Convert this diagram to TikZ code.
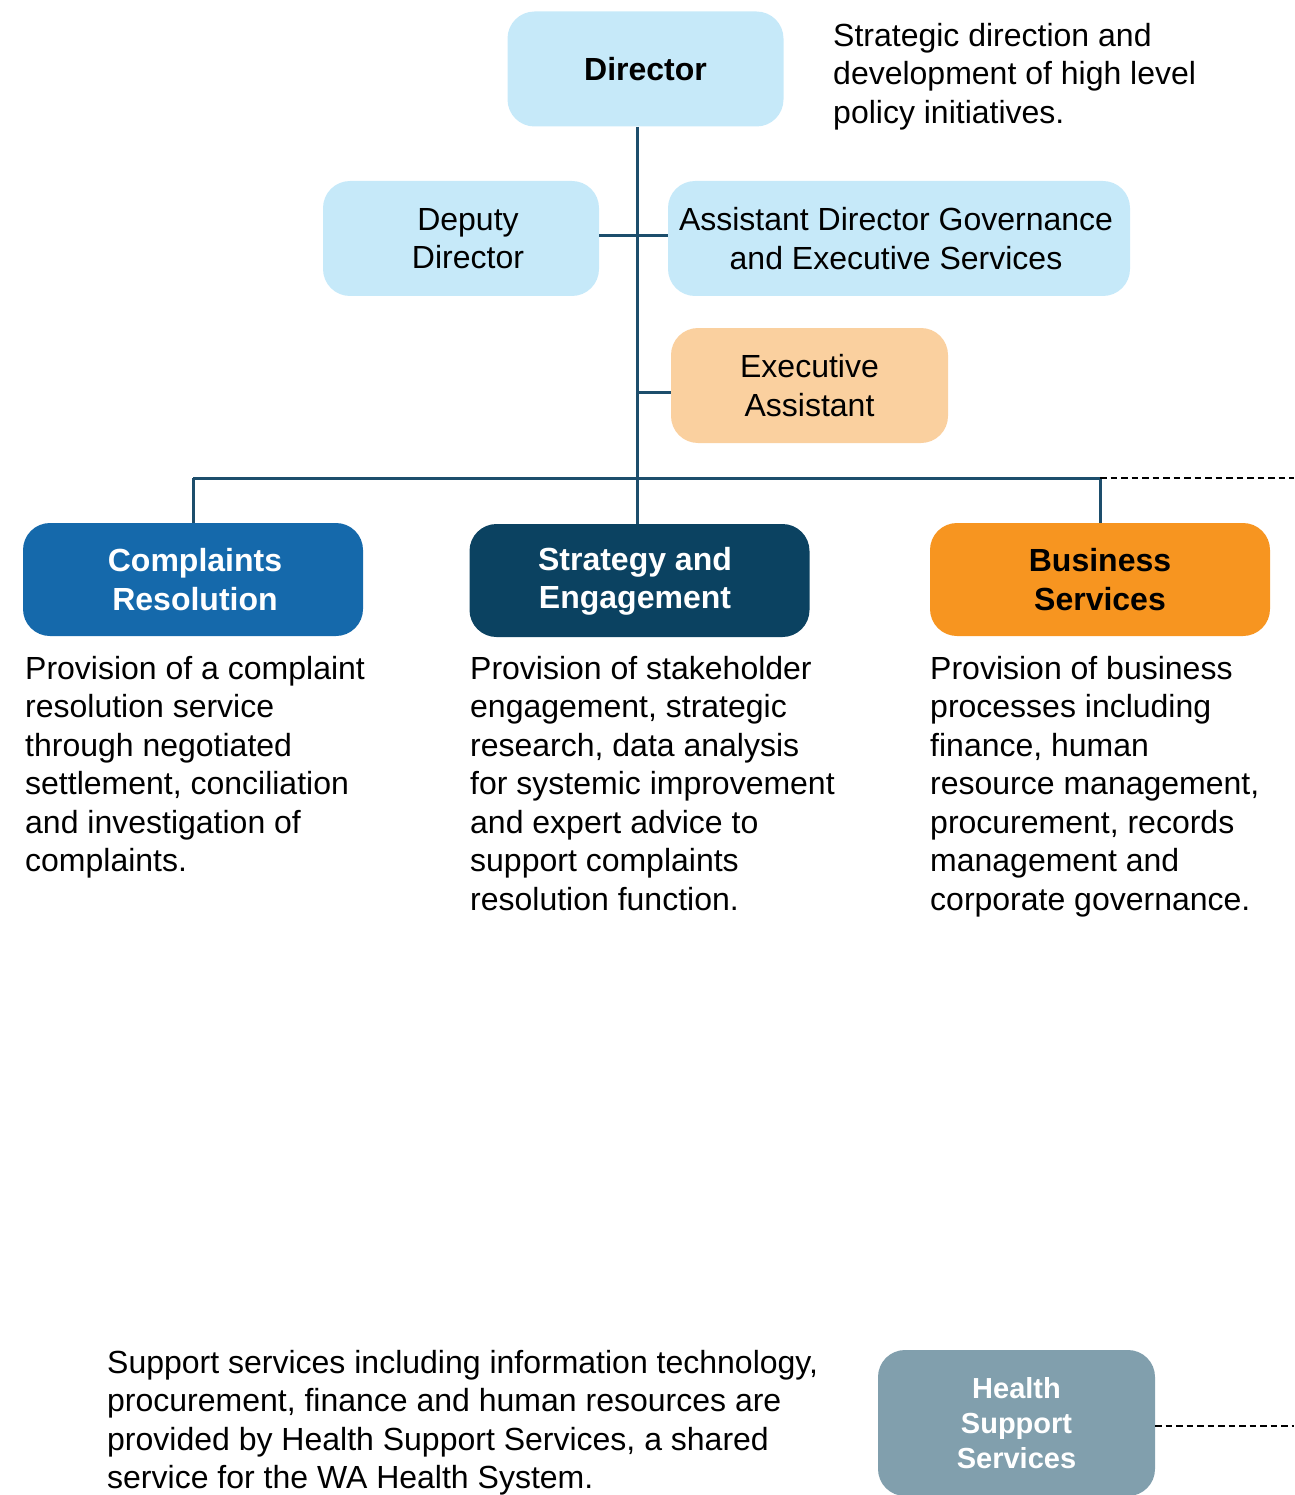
\documentclass[tikz,border=0pt]{standalone}
\usepackage{fontspec}
\setmainfont{Liberation Sans}
\definecolor{lightbox}{HTML}{C6E9F9}
\definecolor{peach}{HTML}{FAD09F}
\definecolor{crblue}{HTML}{1569AB}
\definecolor{sedark}{HTML}{0B4261}
\definecolor{bsorange}{HTML}{F79520}
\definecolor{hssgrey}{HTML}{819FAD}
\definecolor{linecol}{HTML}{1D4E6C}
\begin{document}
\begin{tikzpicture}[x=1pt,y=-1pt,
  box/.style={rectangle,rounded corners=27pt,minimum width=#1,inner sep=0pt,align=center},
  lbox/.style={box=#1,fill=lightbox,minimum height=115pt,font=\fontsize{32}{38.5}\selectfont},
  pbox/.style={box=#1,fill=peach,minimum height=115pt,font=\fontsize{32}{38.5}\selectfont},
  cbox/.style={box=340pt,minimum height=113pt,font=\bfseries\fontsize{32}{38.5}\selectfont},
  boxtext/.style={inner sep=0pt,align=center,font=\fontsize{32}{38.5}\selectfont},
  desc/.style={anchor=north west,inner sep=0pt,align=left,font=\fontsize{32}{38.5}\selectfont},
  conn/.style={draw=linecol,line width=3pt},
  dashline/.style={draw=black,line width=2.5pt,dash pattern=on 6.5pt off 4pt}
]
\useasboundingbox (0,0) rectangle (1294,1495);
% top level
\node[lbox=276pt,font=\bfseries\fontsize{32}{38.5}\selectfont] (dir) at (645.5,69) {Director};
\node[desc] (dirtxt) at (833,23) {Strategic direction and\\development of high level\\policy initiatives.};
\node[lbox=276pt] (dep) at (461,238.5) {};
\node[boxtext] (deptxt) at (468,238.5) {Deputy\\Director};
\node[lbox=462pt] (asd) at (899,238.5) {};
\node[boxtext] (asdtxt) at (896,238.5) {Assistant Director Governance\\and Executive Services};
\node[pbox=277pt] (ea) at (809.5,385.5) {Executive\\Assistant};
% branches
\node[cbox,fill=crblue,text=white] (cr) at (193,579.5) {};
\node[boxtext,text=white,font=\bfseries\fontsize{32}{38.5}\selectfont] (crtitle) at (195,579.5) {Complaints\\Resolution};
\node[cbox,fill=sedark,text=white] (se) at (639.5,580.5) {};
\node[boxtext,text=white,font=\bfseries\fontsize{32}{38.5}\selectfont] (setitle) at (635,581.5) {Strategy and\\Engagement};
\node[cbox,fill=bsorange,text=black] (bs) at (1100,579.5) {Business\\Services};
% descriptions
\node[desc] (crtxt) at (25,656) {Provision of a complaint\\resolution service\\through negotiated\\settlement, conciliation\\and investigation of\\complaints.};
\node[desc] (setxt) at (470,656) {Provision of stakeholder\\engagement, strategic\\research, data analysis\\for systemic improvement\\and expert advice to\\support complaints\\resolution function.};
\node[desc] (bstxt) at (930,656) {Provision of business\\processes including\\finance, human\\resource management,\\procurement, records\\management and\\corporate governance.};
% bottom
\node[desc] (hsstxt) at (107,1350) {Support services including information technology,\\procurement, finance and human resources are\\provided by Health Support Services, a shared\\service for the WA Health System.};
\node[box=277pt,minimum height=146pt,fill=hssgrey,text=white,font=\bfseries\fontsize{29}{35}\selectfont] (hss) at (1016.5,1423) {Health\\Support\\Services};
% connectors
\coordinate (trunktop) at (637,127);
\coordinate (barL) at (193,478);
\coordinate (barR) at (1100,478);
\coordinate (dashR) at (1294,478);
\coordinate (hssR) at (1294,1426);
\draw[conn] (trunktop) -- (637,524);
\draw[conn] (dep.east |- 0,236) -- (asd.west |- 0,236);
\draw[conn] (637,392) -- (ea.west |- 0,392);
\draw[conn] (barL) -- (barR);
\draw[conn] (barL) -- (cr.north);
\draw[conn] (barR) -- (bs.north);
\draw[dashline] (barR) -- (dashR);
\draw[dashline] (hss.east |- hssR) -- (hssR);
\end{tikzpicture}
\end{document}
